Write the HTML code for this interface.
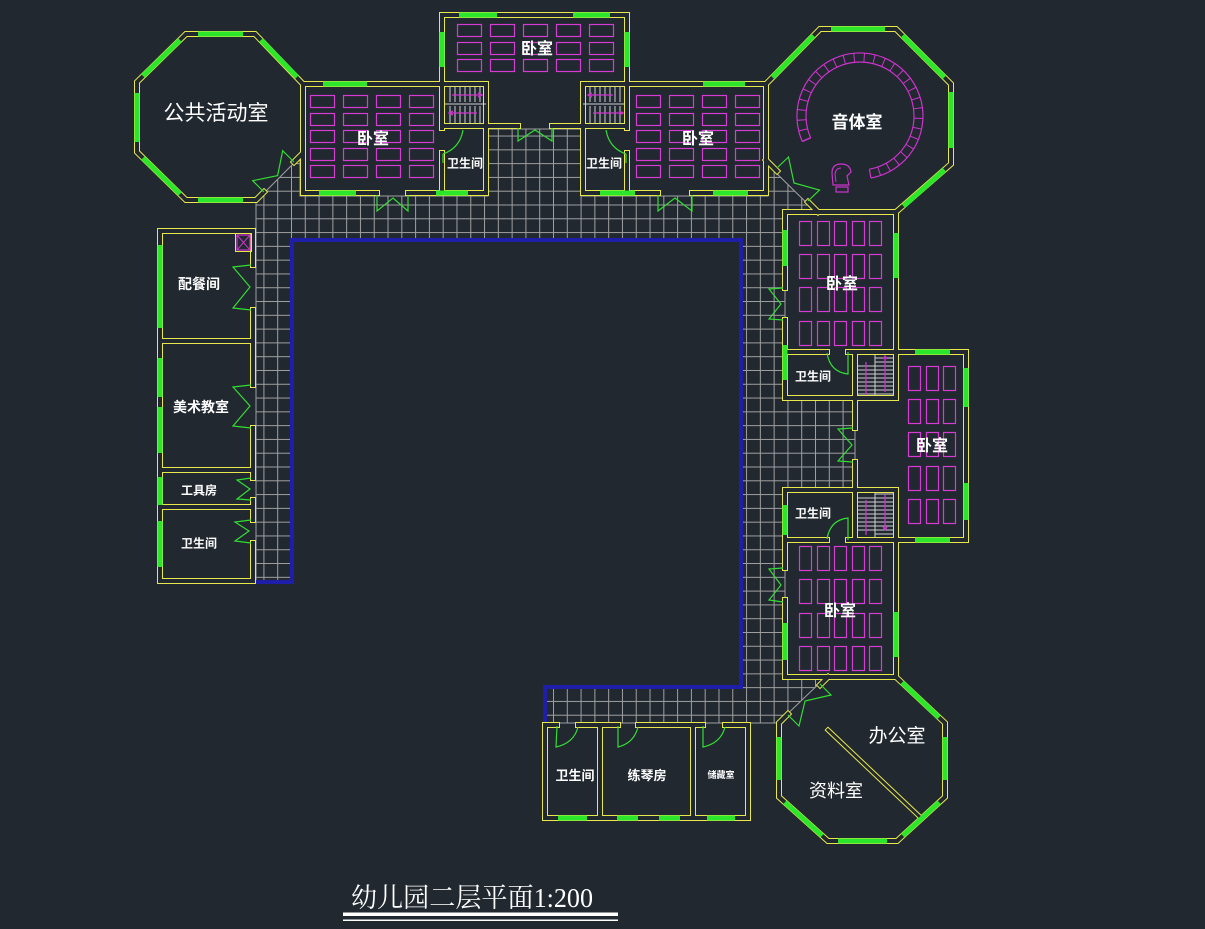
<!DOCTYPE html>
<html><head><meta charset="utf-8">
<style>
html,body{margin:0;padding:0;background:#212830;width:1205px;height:929px;overflow:hidden}
svg{display:block}
.t{fill:#ffffff;font-family:"Liberation Sans","Noto Sans CJK SC",sans-serif;text-anchor:middle}
.b{font-weight:bold}
</style></head>
<body>
<svg width="1205" height="929" viewBox="0 0 1205 929" xmlns="http://www.w3.org/2000/svg">
<defs>
<pattern id="grid" patternUnits="userSpaceOnUse" x="277.2" y="204.5" width="13.79" height="13.79"><path d="M0 0.5H13.79M0.5 0V13.79" stroke="#a0a0a0" stroke-width="1" fill="none"/></pattern>
<rect id="h" width="24" height="12"/>
<rect id="v" width="12" height="24"/>
<g id="W" fill="none">
<path d="M294,162 L303,153 L303,84 L255,34 L186,34 L137,82 L137,152 L186,200 L256,200 L264,192"/>
<path d="M377,193 L303,193 L303,84 L486,84 L486,193 L408,193"/>
<path d="M442,153 L442,193"/>
<path d="M442,126 L486,126"/>
<path d="M442,128 L442,15 L627,15 L627,128"/>
<path d="M486,126 L518,126 M552,126 L583,126"/>
<path d="M658,193 L583,193 L583,84 L766,84 L766,193 L692,193"/>
<path d="M627,153 L627,193"/>
<path d="M583,126 L627,126"/>
<path d="M766,193 L766,84 L820,29 L896,29 L951,84 L951,164 L896,212 L820,212"/>
<path d="M766,160 L777,171"/>
<path d="M808,202 L818,212"/>
<path d="M785,288 L785,212 L896,212 L896,352"/>
<path d="M785,320 L785,398 L855,398 L855,428"/>
<path d="M855,462 L855,490 L785,490 L785,568"/>
<path d="M785,600 L785,677 L896,677 L896,540"/>
<path d="M785,352 L827,352 M848,352 L966,352 L966,540 L848,540 M827,540 L785,540"/>
<path d="M855,352 L855,398 L896,398 L896,352"/>
<path d="M855,540 L855,490 L896,490 L896,540"/>
<path d="M896,640 L896,677 L945,723 L945,797 L897,841 L828,841 L779,797 L779,723 L788,714"/>
<path d="M820,685 L828,677"/>
<path d="M557,725 L545,725 L545,818 L748,818 L748,725 L725,725"/>
<path d="M578,725 L618,725 M638,725 L703,725"/>
<path d="M600,725 L600,818 M693,725 L693,818"/>
<path d="M253,265 L253,231 L160,231 L160,581 L253,581 L253,543"/>
<path d="M253,520 L253,500 M253,478 L253,428 M253,385 L253,310"/>
<path d="M160,341 L253,341 M160,470 L253,470 M160,507 L253,507"/>
</g>
</defs>

<rect x="0" y="0" width="1205" height="929" fill="#212830"/>

<polygon points="256,201 300,157 300,196 488,196 488,129 581,129 581,196 768,196 768,165 818,214 785,214 785,398 855,398 855,490 785,490 785,677 826,677 778,723 545,723 545,687 741,687 741,240 292,240 292,582 256,582" fill="url(#grid)" stroke="#a0a0a0" stroke-width="1"/>

<polyline points="256,582 292,582 292,240 741,240 741,687 545,687 545,723" fill="none" stroke="#1e1ea8" stroke-width="4"/>

<use href="#W" stroke="#e8e84a" stroke-width="6" stroke-linecap="square" stroke-linejoin="miter"/>
<use href="#W" stroke="#212830" stroke-width="4" stroke-linecap="square" stroke-linejoin="miter"/>

<path d="M828,730 L920,817" stroke="#e8e84a" stroke-width="5" stroke-linecap="square"/>
<path d="M828,730 L920,817" stroke="#212830" stroke-width="3" stroke-linecap="square"/>

<g stroke="#2ce62c" stroke-width="5" fill="none">
<path d="M198,34 L243,34 M180,40 L143,76 M137,93 L137,142 M143,158 L180,194 M198,200 L243,200 M261,40 L297,77"/>
<path d="M323,84 L367,84 M319,193 L356,193 M436,193 L468,193"/>
<path d="M459,15 L497,15 M573,15 L610,15 M442,32 L442,67 M627,32 L627,67"/>
<path d="M703,84 L745,84 M600,193 L635,193 M713,193 L748,193"/>
<path d="M831,29 L885,29 M772.5,77.4 L813.5,35.6 M902.6,35.6 L944.4,77.4 M951,92 L951,148 M944.5,169.8 L903.5,206.2"/>
<path d="M896,233 L896,278 M785,230 L785,266 M785,345 L785,380 M966,368 L966,407 M966,483 L966,520 M915,352 L950,352 M915,540 L950,540 M785,505 L785,535 M896,612 L896,657 M785,623 L785,660"/>
<path d="M945,737 L945,780 M779,737 L779,780 M838,841 L887,841 M902,682.5 L939,717.5 M939.2,802.3 L902.8,835.7 M822.1,835.7 L784.9,802.3"/>
<path d="M558,818 L587,818 M617,818 L638,818 M659,818 L680,818 M707,818 L735,818"/>
<path d="M160,245 L160,328 M160,358 L160,397 M160,407 L160,453 M160,477 L160,505 M160,521 L160,567"/>
</g>

<g fill="none" stroke="#d43cd4" stroke-width="1.2">
<use href="#h" x="310.5" y="95.5"/><use href="#h" x="343.5" y="95.5"/><use href="#h" x="376.5" y="95.5"/><use href="#h" x="409.5" y="95.5"/>
<use href="#h" x="310.5" y="113.5"/><use href="#h" x="343.5" y="113.5"/><use href="#h" x="376.5" y="113.5"/><use href="#h" x="409.5" y="113.5"/>
<use href="#h" x="310.5" y="130.5"/><use href="#h" x="343.5" y="130.5"/><use href="#h" x="376.5" y="130.5"/><use href="#h" x="409.5" y="130.5"/>
<use href="#h" x="310.5" y="148.5"/><use href="#h" x="343.5" y="148.5"/><use href="#h" x="376.5" y="148.5"/><use href="#h" x="409.5" y="148.5"/>
<use href="#h" x="310.5" y="165.5"/><use href="#h" x="343.5" y="165.5"/><use href="#h" x="376.5" y="165.5"/><use href="#h" x="409.5" y="165.5"/>

<use href="#h" x="636.5" y="95.5"/><use href="#h" x="669.5" y="95.5"/><use href="#h" x="702.5" y="95.5"/><use href="#h" x="735.5" y="95.5"/>
<use href="#h" x="636.5" y="113.5"/><use href="#h" x="669.5" y="113.5"/><use href="#h" x="702.5" y="113.5"/><use href="#h" x="735.5" y="113.5"/>
<use href="#h" x="636.5" y="130.5"/><use href="#h" x="669.5" y="130.5"/><use href="#h" x="702.5" y="130.5"/><use href="#h" x="735.5" y="130.5"/>
<use href="#h" x="636.5" y="148.5"/><use href="#h" x="669.5" y="148.5"/><use href="#h" x="702.5" y="148.5"/><use href="#h" x="735.5" y="148.5"/>
<use href="#h" x="636.5" y="165.5"/><use href="#h" x="669.5" y="165.5"/><use href="#h" x="702.5" y="165.5"/><use href="#h" x="735.5" y="165.5"/>

<use href="#h" x="457.5" y="24.5"/><use href="#h" x="490.5" y="24.5"/><use href="#h" x="523.5" y="24.5"/><use href="#h" x="556.5" y="24.5"/><use href="#h" x="589.5" y="24.5"/>
<use href="#h" x="457.5" y="42.5"/><use href="#h" x="490.5" y="42.5"/><use href="#h" x="523.5" y="42.5"/><use href="#h" x="556.5" y="42.5"/><use href="#h" x="589.5" y="42.5"/>
<use href="#h" x="457.5" y="59.5"/><use href="#h" x="490.5" y="59.5"/><use href="#h" x="523.5" y="59.5"/><use href="#h" x="556.5" y="59.5"/><use href="#h" x="589.5" y="59.5"/>

<use href="#v" x="799.5" y="221.5"/><use href="#v" x="817.5" y="221.5"/><use href="#v" x="834.5" y="221.5"/><use href="#v" x="852.5" y="221.5"/><use href="#v" x="869.5" y="221.5"/>
<use href="#v" x="799.5" y="254.5"/><use href="#v" x="817.5" y="254.5"/><use href="#v" x="834.5" y="254.5"/><use href="#v" x="852.5" y="254.5"/><use href="#v" x="869.5" y="254.5"/>
<use href="#v" x="799.5" y="287.5"/><use href="#v" x="817.5" y="287.5"/><use href="#v" x="834.5" y="287.5"/><use href="#v" x="852.5" y="287.5"/><use href="#v" x="869.5" y="287.5"/>
<use href="#v" x="799.5" y="321.5"/><use href="#v" x="817.5" y="321.5"/><use href="#v" x="834.5" y="321.5"/><use href="#v" x="852.5" y="321.5"/><use href="#v" x="869.5" y="321.5"/>

<use href="#v" x="799.5" y="546.5"/><use href="#v" x="817.5" y="546.5"/><use href="#v" x="834.5" y="546.5"/><use href="#v" x="852.5" y="546.5"/><use href="#v" x="869.5" y="546.5"/>
<use href="#v" x="799.5" y="579.5"/><use href="#v" x="817.5" y="579.5"/><use href="#v" x="834.5" y="579.5"/><use href="#v" x="852.5" y="579.5"/><use href="#v" x="869.5" y="579.5"/>
<use href="#v" x="799.5" y="613.5"/><use href="#v" x="817.5" y="613.5"/><use href="#v" x="834.5" y="613.5"/><use href="#v" x="852.5" y="613.5"/><use href="#v" x="869.5" y="613.5"/>
<use href="#v" x="799.5" y="646.5"/><use href="#v" x="817.5" y="646.5"/><use href="#v" x="834.5" y="646.5"/><use href="#v" x="852.5" y="646.5"/><use href="#v" x="869.5" y="646.5"/>

<use href="#v" x="908.5" y="366.5"/><use href="#v" x="926.5" y="366.5"/><use href="#v" x="943.5" y="366.5"/>
<use href="#v" x="908.5" y="399.5"/><use href="#v" x="926.5" y="399.5"/><use href="#v" x="943.5" y="399.5"/>
<use href="#v" x="908.5" y="432.5"/><use href="#v" x="926.5" y="432.5"/><use href="#v" x="943.5" y="432.5"/>
<use href="#v" x="908.5" y="466.5"/><use href="#v" x="926.5" y="466.5"/><use href="#v" x="943.5" y="466.5"/>
<use href="#v" x="908.5" y="499.5"/><use href="#v" x="926.5" y="499.5"/><use href="#v" x="943.5" y="499.5"/>
</g>

<g stroke="#d0d0d0" stroke-width="1" fill="none">
<path d="M445,104 L486,104 M450,86V102 M455,86V102 M460,86V102 M465,86V102 M470,86V102 M475,86V102 M480,86V102 M450,106V124 M455,106V124 M460,106V124 M465,106V124 M470,106V124 M475,106V124 M480,106V124"/>
<path d="M583,104 L624,104 M590,86V102 M595,86V102 M600,86V102 M605,86V102 M610,86V102 M615,86V102 M620,86V102 M590,106V124 M595,106V124 M600,106V124 M605,106V124 M610,106V124 M615,106V124 M620,106V124"/>
<path d="M875,355 V396 M858,366H875 M858,370H875 M858,374H875 M858,378H875 M858,382H875 M858,386H875 M858,390H875 M858,394H875 M875,358H894 M875,362H894 M875,366H894 M875,370H894 M875,374H894 M875,378H894 M875,382H894 M875,386H894 M875,390H894 M875,394H894"/>
<path d="M875,493 V538 M858,498H875 M858,502H875 M858,506H875 M858,510H875 M858,514H875 M858,518H875 M858,522H875 M858,526H875 M858,530H875 M875,494H894 M875,498H894 M875,502H894 M875,506H894 M875,510H894 M875,514H894 M875,518H894 M875,522H894 M875,526H894 M875,530H894 M875,534H894"/>
</g>
<g stroke="#cc33cc" stroke-width="1.3" fill="none">
<path d="M452,95 L482,95 M478,93 L482,95 L478,97 M449,113 L477,113 M453,111 L449,113 L453,115"/>
<path d="M588,95 L613,95 M592,93 L588,95 L592,97 M593,113 L623,113 M619,111 L623,113 L619,115"/>
<path d="M866,362 V395 M885,356 V392 M883,359 L885,356 L887,359"/>
<path d="M866,500 V535 M885,495 V530 M883,527 L885,530 L887,527"/>
</g>

<g stroke="#cc33cc" fill="none">
<path d="M802.4,141.6 A63,63 0 1 1 870.9,178.0" stroke-width="1.2"/>
<path d="M810.7,138.0 A54,54 0 1 1 869.4,169.2" stroke-width="1.2"/>
<path d="M806.6,139.8 A58.5,58.5 0 1 1 870.2,173.6" stroke-width="9" stroke-dasharray="1 9"/>
<path d="M802.4,141.6 L810.7,138.0 M870.9,178 L869.4,169.2" stroke-width="1.2"/>
<path d="M833,185 L832,173 Q832,164 841,164 Q850,164 851,172 L847,176 L849,185 Z" stroke-width="1.2"/>
<path d="M836,182 L835,174 Q836,168 841,168" stroke-width="1"/>
<rect x="836" y="187" width="12" height="5" stroke-width="1.2"/>
</g>

<rect x="235.5" y="233.5" width="16" height="18" fill="none" stroke="#e8e84a" stroke-width="1"/>
<rect x="237" y="235" width="13" height="15" fill="none" stroke="#cc33cc" stroke-width="1.2"/>
<path d="M237,235 L250,250 M250,235 L237,250" stroke="#cc33cc" stroke-width="1"/>

<g stroke="#33dd33" stroke-width="1.2" fill="none">
<polyline points="377,195 377,211 393,198 408,211 408,195"/>
<polyline points="658,195 658,211 675,198 692,211 692,195"/>
<polyline points="518,128 518,141 535,130 552,141 552,128"/>
<polyline points="783,288 769,289 781,304 769,319 783,320"/>
<polyline points="783,568 769,569 781,585 769,600 783,602"/>
<polyline points="853,428 838,429 852,445 838,461 853,462"/>
<polyline points="251,265 233,267 250,287 233,308 251,310"/>
<polyline points="251,385 233,387 250,406 233,426 251,428"/>
<polyline points="251,478 237,480 250,489 237,499 251,500"/>
<polyline points="251,520 235,522 249,531 235,541 251,543"/>
<polyline points="264,192 252.7,180.7 277.6,175.6 282.7,150.7 294,162"/>
<polyline points="777,168 788.5,157 794,183 819.5,190 808,201"/>
<polyline points="788,715 799,726 805,701 831,695 820,684"/>
<path d="M463,130 Q460,148 443,154 M443,154 L443,163"/>
<path d="M606,130 Q609,148 626,154 M626,154 L626,163"/>
<path d="M848,352 L848,374 Q830,372 827,353"/>
<path d="M848,540 L848,518 Q830,520 827,539"/>
<path d="M557,726 L556,747 Q574,743 578,727"/>
<path d="M618,726 L618,747 Q634,743 638,727"/>
<path d="M703,726 L703,747 Q721,743 725,727"/>
</g>

<text class="t" x="216" y="120" font-size="21">公共活动室</text>
<text class="t b" x="373" y="144" font-size="16">卧室</text>
<text class="t b" x="537" y="54" font-size="16">卧室</text>
<text class="t b" x="698" y="144" font-size="16">卧室</text>
<text class="t b" x="465" y="167.5" font-size="12">卫生间</text>
<text class="t b" x="604" y="167.5" font-size="12">卫生间</text>
<text class="t b" x="857" y="128" font-size="17">音体室</text>
<text class="t b" x="842" y="289" font-size="16">卧室</text>
<text class="t b" x="813" y="380.5" font-size="12">卫生间</text>
<text class="t b" x="932" y="451" font-size="16">卧室</text>
<text class="t b" x="813" y="517.5" font-size="12">卫生间</text>
<text class="t b" x="840" y="616" font-size="16">卧室</text>
<text class="t" x="897" y="742" font-size="19">办公室</text>
<text class="t" x="836" y="797" font-size="18">资料室</text>
<text class="t b" x="575" y="780" font-size="13">卫生间</text>
<text class="t b" x="647" y="780" font-size="13">练琴房</text>
<text class="t b" x="721" y="778" font-size="9">储藏室</text>
<text class="t b" x="199" y="289" font-size="14">配餐间</text>
<text class="t b" x="201" y="412" font-size="14">美术教室</text>
<text class="t b" x="199" y="494.5" font-size="12">工具房</text>
<text class="t b" x="199" y="547.5" font-size="12">卫生间</text>

<text x="351" y="907" font-size="27" fill="#ffffff" font-family="'Liberation Serif','Noto Serif CJK SC',serif" textLength="242" lengthAdjust="spacingAndGlyphs">幼儿园二层平面1:200</text>
<rect x="343" y="912.5" width="275" height="3.5" fill="#ffffff"/>
<rect x="343" y="919.5" width="275" height="1.5" fill="#ffffff"/>
</svg>
</body></html>
